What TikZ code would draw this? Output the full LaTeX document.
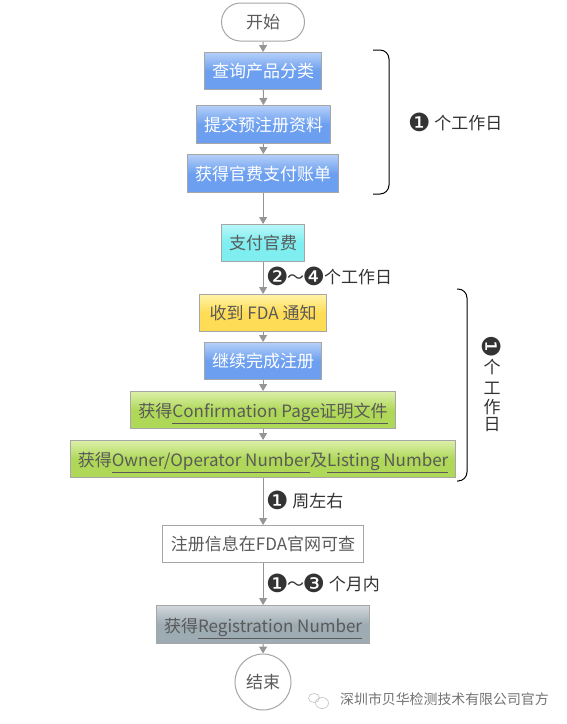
\documentclass[tikz,border=0pt]{standalone}
\usepackage{fontspec}
\setmainfont{Noto Sans CJK SC}
\newfontfamily\symfont{DejaVu Sans}
\usetikzlibrary{arrows.meta,shapes.misc}
\definecolor{edgegray}{HTML}{A6A6A6}
\definecolor{txtgray}{HTML}{5A5A5A}
\newcommand{\cn}[1]{\raisebox{-1.2pt}{\symfont\fontsize{25}{25}\selectfont #1}}
\definecolor{BoxBlueA}{HTML}{B4CFF9}
\definecolor{BoxBlueB}{HTML}{6C9FEF}
\definecolor{BoxGreenA}{HTML}{DBEFA8}
\definecolor{BoxGreenB}{HTML}{AFD858}
\definecolor{BoxGrayA}{HTML}{D3D8DB}
\definecolor{BoxGrayB}{HTML}{9DABB3}
\definecolor{BoxYellowA}{HTML}{FFF3A6}
\definecolor{BoxYellowB}{HTML}{FFDC55}
\definecolor{BoxCyanA}{HTML}{B8F6F8}
\definecolor{BoxCyanB}{HTML}{7EEEF0}
\tikzset{
  x=1pt,y=-1pt,
  flowbox/.style={draw=edgegray,line width=1.2pt,inner sep=0pt,font=\fontsize{17}{18}\selectfont,text=txtgray,anchor=north west,text height=15pt,text depth=2pt},
  bluebox/.style={flowbox,top color=BoxBlueA,bottom color=BoxBlueB,middle color=BoxBlueB,text=white},
  yellowbox/.style={flowbox,top color=BoxYellowA,bottom color=BoxYellowB,middle color=BoxYellowB},
  cyanbox/.style={flowbox,top color=BoxCyanA,bottom color=BoxCyanB,middle color=BoxCyanB},
  greenbox/.style={flowbox,top color=BoxGreenA,bottom color=BoxGreenB,middle color=BoxGreenB,text height=17pt},
  graybox/.style={flowbox,top color=BoxGrayA,bottom color=BoxGrayB,middle color=BoxGrayB,text height=17pt},
  whitebox/.style={flowbox,fill=white},
  flowarrow/.style={draw=edgegray!90!black,line width=1pt,-{Triangle[length=7pt,width=8pt]}},
  bracket/.style={draw=black,line width=1pt,rounded corners=9pt},
  note/.style={font=\fontsize{17}{18}\selectfont,text=black!80,anchor=west,inner sep=0pt},
}
\newcommand{\boxat}[7]{\node[#1,minimum width=#4pt-#2pt,minimum height=#5pt-#3pt] (#6) at (#2,#3) {#7};}
\begin{document}
\begin{tikzpicture}
\useasboundingbox (0,0) rectangle (566,724);
\fill[white] (0,0) rectangle (566,724);

\node[rounded rectangle,draw=edgegray,line width=1pt,minimum width=83pt,minimum height=38pt,inner sep=0pt,font=\fontsize{17}{18}\selectfont,text=txtgray] (start) at (263,22) {开始};
\boxat{bluebox}{204}{52}{321}{89}{query}{查询产品分类}
\boxat{bluebox}{196}{105}{330}{143}{submit}{提交预注册资料}
\boxat{bluebox}{187}{154}{338}{192}{bill}{获得官费支付账单}
\boxat{cyanbox}{221}{224}{304}{261}{pay}{支付官费}
\boxat{yellowbox}{199}{294}{326}{331}{fda}{收到 FDA 通知}
\boxat{bluebox}{204}{342}{321}{379}{cont}{继续完成注册}
\boxat{greenbox}{130}{391}{395}{428}{conf}{获得\underline{Confirmation Page证明文件}}
\boxat{greenbox}{70}{440}{455}{477}{owner}{获得\underline{Owner/Operator Number}及\underline{Listing Number}}
\boxat{whitebox}{162}{525}{363}{562}{info}{注册信息在FDA官网可查}
\boxat{graybox}{156}{605}{369}{643}{reg}{获得\underline{Registration Number}}
\node[circle,draw=edgegray,line width=1pt,minimum size=56pt,inner sep=0pt,font=\fontsize{17}{18}\selectfont,text=txtgray] (end) at (263,682) {结束};

\draw[flowarrow] (start) -- (query);
\draw[flowarrow] (query) -- (submit);
\draw[flowarrow] (submit) -- (bill);
\draw[flowarrow] (bill) -- (pay);
\draw[flowarrow] (pay) -- (fda);
\draw[flowarrow] (fda) -- (cont);
\draw[flowarrow] (cont) -- (conf);
\draw[flowarrow] (conf) -- (owner);
\draw[flowarrow] (owner) -- (info);
\draw[flowarrow] (info) -- (reg);
\draw[flowarrow] (reg) -- (end);

\coordinate (b1a) at (373,50); \coordinate (b1b) at (389,50);
\coordinate (b1c) at (389,194); \coordinate (b1d) at (373,194);
\draw[bracket] (b1a) -- (b1b) -- (b1c) -- (b1d);
\coordinate (b2a) at (457,289); \coordinate (b2b) at (467,289);
\coordinate (b2c) at (467,481); \coordinate (b2d) at (457,481);
\draw[bracket] (b2a) -- (b2b) -- (b2c) -- (b2d);

\node[note] (n1) at (408,122) {\cn{❶} 个工作日};
\node[note] (n2) at (266,276) {\cn{❷}\hspace{-1.5pt}～\hspace{-1.5pt}\cn{❹}\hspace{-1pt}个工作日};
\node[note] (n3) at (266,500) {\cn{❶} 周左右};
\node[note] (n4) at (266,583) {\cn{❶}\hspace{-1.5pt}～\hspace{-1.5pt}\cn{❸} 个月内};

\node[note,anchor=center,rotate=-90] (v0) at (492,347) {\cn{❶}};
\node[note,anchor=center] (v1) at (492,367) {个};
\node[note,anchor=center] (v2) at (492,388) {工};
\node[note,anchor=center] (v3) at (492,407) {作};
\node[note,anchor=center] (v4) at (492,425) {日};

\node[font=\fontsize{13.9}{15}\selectfont,text=black!55,anchor=west,inner sep=0pt] (wm) at (340,699) {深圳市贝华检测技术有限公司官方};
\draw[black!25,line width=.6pt] (314,698) ellipse (5.5 and 4.5);
\draw[black!25,line width=.6pt] (322,703) ellipse (6.5 and 5.5);
\end{tikzpicture}
\end{document}
